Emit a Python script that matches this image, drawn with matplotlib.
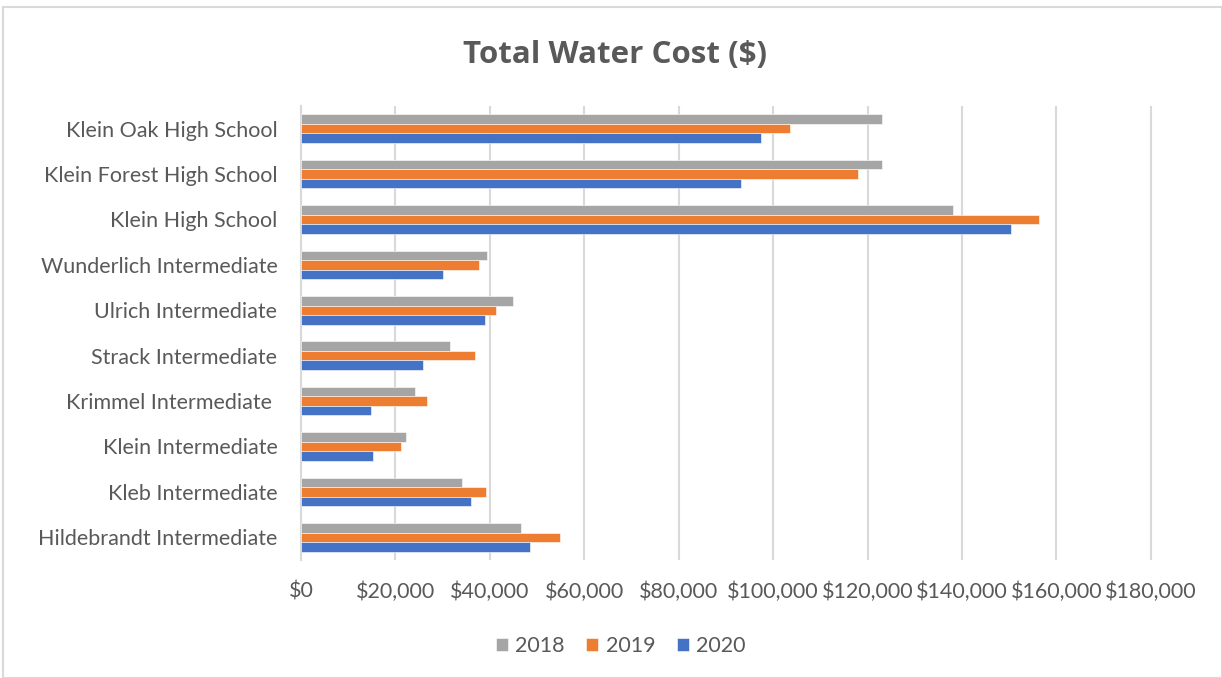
import matplotlib
matplotlib.use("Agg")
import matplotlib.pyplot as plt
import numpy as np
from matplotlib.ticker import FuncFormatter, MultipleLocator
from matplotlib.patches import Rectangle

categories = ["Hildebrandt Intermediate", "Kleb Intermediate", "Klein Intermediate",
              "Krimmel Intermediate ", "Strack Intermediate", "Ulrich Intermediate",
              "Wunderlich Intermediate", "Klein High School", "Klein Forest High School",
              "Klein Oak High School"]
v2018 = [46700, 34000, 22200, 24200, 31500, 44800, 39300, 138200, 123000, 123000]
v2019 = [54900, 39100, 21200, 26600, 36900, 41200, 37700, 156400, 117900, 103500]
v2020 = [48600, 36100, 15200, 14900, 25800, 39000, 30100, 150400, 93200, 97500]
years = ["2018", "2019", "2020"]
colors = ["#A5A5A5", "#ED7D31", "#4472C4"]
txt = "#595959"

plt.rcParams['font.family'] = ['Lato', 'DejaVu Sans']

fig = plt.figure(figsize=(12.22, 6.78), dpi=100)
ax = fig.add_axes([301/1222, 1-560/678, (1165-301)/1222, (560-106)/678])

y = np.arange(len(categories))
h = 0.21
for vals, off, c, lab in zip([v2018, v2019, v2020], [h, 0, -h], colors, years):
    ax.barh(y + off, vals, height=h, color=c, label=lab, edgecolor='white', linewidth=0.4, zorder=3)

ax.set_xlim(0, 183000)
ax.set_ylim(-0.5, len(categories) - 0.5)
ax.xaxis.set_major_locator(MultipleLocator(20000))
ax.xaxis.set_major_formatter(FuncFormatter(lambda v, p: "${:,.0f}".format(v)))
ax.set_yticks(y)
ax.set_yticklabels(categories)
ax.grid(axis='x', color='#D9D9D9', linewidth=1.5, zorder=0)
for s in ['top', 'right', 'bottom']:
    ax.spines[s].set_visible(False)
ax.spines['left'].set_color('#D9D9D9')
ax.spines['left'].set_linewidth(1.5)
ax.tick_params(axis='both', length=0, colors=txt, labelsize=15.5)
ax.tick_params(axis='x', pad=15.5)
ax.tick_params(axis='y', pad=17)

fig.text(615/1222, 1-55/678, "Total Water Cost ($)", ha='center', va='center',
         fontsize=22.5, fontweight='bold', color=txt, family=['Open Sans', 'DejaVu Sans'])

ax.legend(loc='center', bbox_to_anchor=(621/1222, 1-646/678), bbox_transform=fig.transFigure,
          ncol=3, frameon=False, fontsize=15.5, labelcolor=txt, handlelength=0.55, handleheight=0.55,
          handletextpad=0.35, columnspacing=1.0)

fig.patches.append(Rectangle((3/1222, 0), 1-3/1222, 1-7/678, transform=fig.transFigure,
                             fill=False, edgecolor='#D9D9D9', linewidth=1.5))

fig.savefig("out.png", dpi=100)
